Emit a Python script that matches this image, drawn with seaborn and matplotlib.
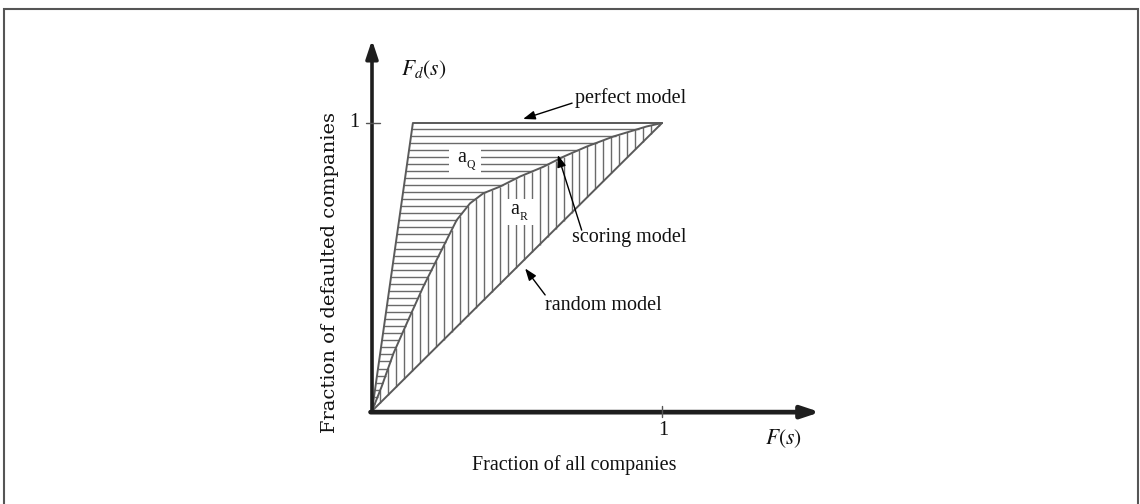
import numpy as np
import matplotlib
matplotlib.use("Agg")
import matplotlib.pyplot as plt
import seaborn as sns
from matplotlib.patches import Rectangle

# ---- data ----
perfect_x = [0.0, 0.141, 1.0]
perfect_y = [0.0, 1.0, 1.0]
random_x = [0.0, 1.0]
random_y = [0.0, 1.0]
scoring_x = [0.0, 0.033, 0.074, 0.125, 0.177, 0.234, 0.292, 0.338, 0.384,
             0.441, 0.510, 0.591, 0.660, 0.740, 0.832, 0.947, 1.0]
scoring_y = [0.0, 0.084, 0.200, 0.316, 0.432, 0.547, 0.663, 0.721, 0.756,
             0.779, 0.814, 0.848, 0.883, 0.918, 0.953, 0.988, 1.0]
tick_labels = ["1"]
xlabel = "Fraction of all companies"
ylabel = "Fraction of defaulted companies"

sns.set_theme(style="white")
plt.rcParams["font.family"] = ["Liberation Serif", "DejaVu Serif"]
plt.rcParams["mathtext.fontset"] = "stix"
plt.rcParams["text.color"] = "#111111"

W, H, DPI = 1140, 504, 100
fig = plt.figure(figsize=(W / DPI, H / DPI), dpi=DPI)
ax = fig.add_axes([0, 0, 1, 1])
ox, oy, sx, sy = 372, 411, 290, 288
ax.set_xlim(-ox / sx, (W - ox) / sx)
ax.set_ylim(-(H - oy) / sy, oy / sy)
ax.axis("off")

# outer frame
fig.patches.append(Rectangle((3.5 / W, -0.05), (1134) / W, 1 - 8.5 / H + 0.05,
                             transform=fig.transFigure, fill=False,
                             ec="#555555", lw=1.5))

hatch_col = "#6a6a6a"
# horizontal hatching between perfect model and scoring model
hy = np.arange(0.025, 0.999, 0.0245)
x_left = np.interp(hy, perfect_y[:2], perfect_x[:2])
x_right = np.interp(hy, scoring_y, scoring_x)
ax.hlines(hy, x_left, x_right, color=hatch_col, lw=1.0, zorder=1)
# vertical hatching between scoring model and random model
vx = np.arange(0.028, 0.999, 0.0275)
y_bot = np.interp(vx, random_x, random_y)
y_top = np.interp(vx, scoring_x, scoring_y)
ax.vlines(vx, y_bot, y_top, color=hatch_col, lw=1.0, zorder=1)

curve_col = "#5a5a5a"
for cx, cy in [(perfect_x, perfect_y), (random_x, random_y),
               (scoring_x, scoring_y)]:
    sns.lineplot(x=cx, y=cy, ax=ax, color=curve_col, lw=1.4,
                 estimator=None, sort=False, legend=False, zorder=2)

# axes with arrows
ax.annotate("", xy=(0, (oy - 40) / sy), xytext=(0, -0.004),
            arrowprops=dict(arrowstyle="-|>,head_length=0.9,head_width=0.3",
                            lw=2.6, color="#1e1e1e", shrinkA=0, shrinkB=0),
            zorder=5)
ax.annotate("", xy=((820 - ox) / sx, -0.004), xytext=(-0.005, -0.004),
            arrowprops=dict(arrowstyle="-|>,head_length=0.9,head_width=0.3",
                            lw=3.4, color="#1e1e1e", shrinkA=0, shrinkB=0),
            zorder=5)
# ticks
ax.plot([-0.02, 0.028], [1, 1], color="#555555", lw=1.0, zorder=6)
ax.plot([1, 1], [-0.02, 0.018], color="#555555", lw=1.0, zorder=6)

fs = 14.5
ax.text(-0.062, 1.003, tick_labels[0], ha="center", va="center", fontsize=fs)
ax.text(1.003, -0.069, tick_labels[0], ha="center", va="center", fontsize=fs)
ax.text(0.179, 1.184, r"$F_d(s)$", ha="center", va="center", fontsize=fs + 1)
ax.text(1.417, -0.097, r"$F(s)$", ha="center", va="center", fontsize=fs + 1)
ax.text(0.697, -0.188, xlabel, ha="center", va="center", fontsize=fs)
ax.text(-0.145, 0.48, ylabel, ha="center", va="center", rotation=90,
        fontsize=14, family=["DejaVu Serif"])

# area labels: "a" with a small lowered subscript, on a white patch
for (lx, ly, sub) in [(0.321, 0.872, "Q"), (0.503, 0.691, "R")]:
    ax.add_patch(Rectangle((lx - 0.055, ly - 0.045), 0.11, 0.09,
                           fc="white", ec="none", zorder=3))
    ax.text(lx - 0.012, ly + 0.008, "a", ha="center", va="center",
            fontsize=fs, zorder=4)
    ax.text(lx + 0.018, ly - 0.018, sub, ha="center", va="center",
            fontsize=8.5, zorder=4)

arrow = dict(arrowstyle="-|>,head_length=0.6,head_width=0.22", lw=1.0,
             color="black", shrinkA=0, shrinkB=0)
ax.text(0.70, 1.087, "perfect model", ha="left", va="center", fontsize=fs)
ax.annotate("", xy=(0.521, 1.014), xytext=(0.690, 1.069), arrowprops=arrow)
ax.text(0.690, 0.601, "scoring model", ha="left", va="center", fontsize=fs)
ax.annotate("", xy=(0.641, 0.889), xytext=(0.723, 0.628), arrowprops=arrow)
ax.text(0.597, 0.368, "random model", ha="left", va="center", fontsize=fs)
ax.annotate("", xy=(0.528, 0.495), xytext=(0.597, 0.403), arrowprops=arrow)

fig.savefig("out.png", dpi=DPI)
